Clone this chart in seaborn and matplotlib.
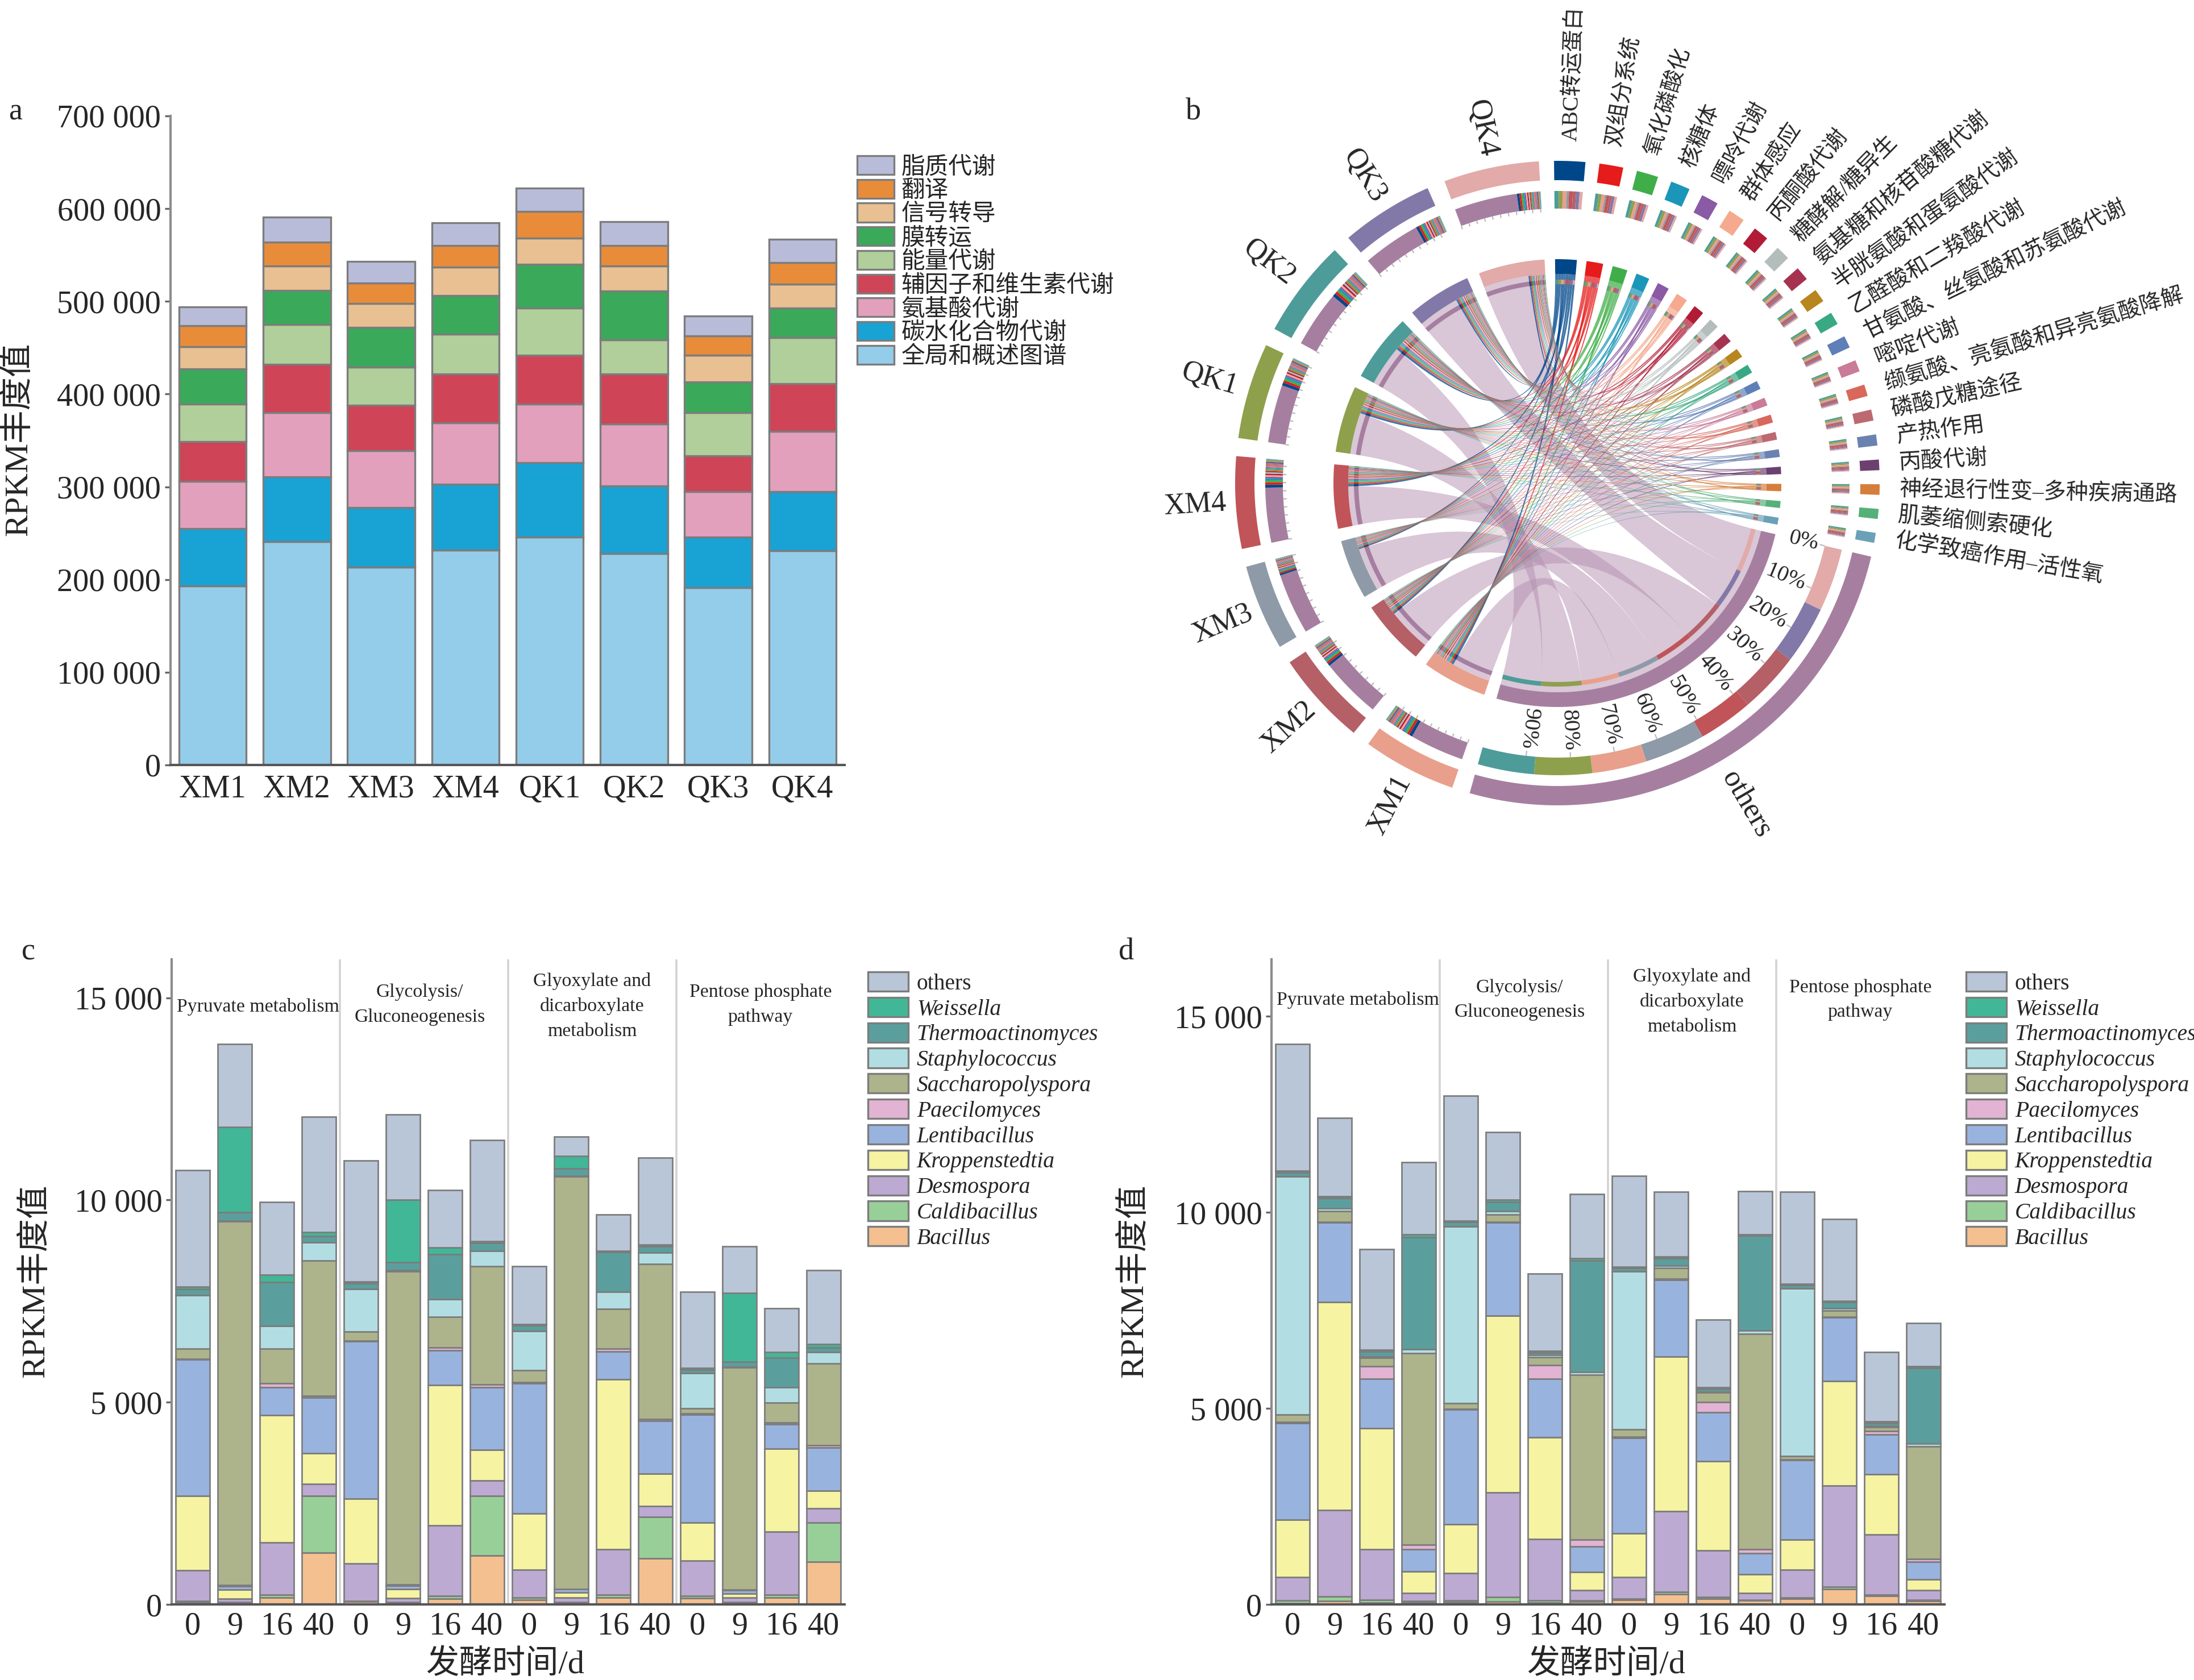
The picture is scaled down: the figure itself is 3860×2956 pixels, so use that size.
import numpy as np
import pandas as pd
import matplotlib
matplotlib.use("Agg")
import matplotlib.pyplot as plt
from matplotlib.patches import Patch, PathPatch, Polygon
from matplotlib.path import Path
from matplotlib.collections import LineCollection
import seaborn as sns

W, H = 3861, 2956
sns.set_style("ticks")
FONT = ["Liberation Serif", "Noto Sans CJK SC"]
plt.rcParams["font.family"] = FONT
plt.rcParams["axes.unicode_minus"] = False

# ---------- panel a ----------
a_samples = ["XM1", "XM2", "XM3", "XM4", "QK1", "QK2", "QK3", "QK4"]
a_series = ["脂质代谢", "翻译", "信号转导", "膜转运", "能量代谢", "辅因子和维生素代谢", "氨基酸代谢", "碳水化合物代谢", "全局和概述图谱"]
a_lipid = [20, 27, 23, 25, 25, 26, 21.5, 25]
a_transl = [23, 26, 22, 23, 29, 22, 21, 23.5]
a_signal = [24, 26, 26, 31, 28, 27, 29, 25.5]
a_memb = [37.5, 37, 43, 41.5, 47, 52.5, 33, 32]
a_energy = [40.5, 43, 41, 43, 51, 37, 46.5, 50]
a_cof = [43, 52, 49, 52.5, 53, 53.5, 38.5, 51]
a_amino = [51, 69, 61.5, 66.5, 63, 67, 49, 65]
a_carb = [62, 70, 64, 70.5, 80, 73, 55, 64]
a_global = [193, 241, 213.5, 232, 246, 228, 191, 231]
a_values = [a_lipid, a_transl, a_signal, a_memb, a_energy, a_cof, a_amino, a_carb, a_global]
a_colors = ["#b9bcd9", "#e98c3a", "#e8c092", "#3aa95a", "#b0cf9a", "#cf4456", "#e3a0bc", "#19a2d4", "#94cdea"]
a_ticks = [0, 100000, 200000, 300000, 400000, 500000, 600000, 700000]

# ---------- panels c, d ----------
genera = ["others", "Weissella", "Thermoactinomyces", "Staphylococcus", "Saccharopolyspora", "Paecilomyces",
          "Lentibacillus", "Kroppenstedtia", "Desmospora", "Caldibacillus", "Bacillus"]
genus_colors = ["#b9c6d8", "#41b797", "#5a9f9e", "#b2dee3", "#adb38b", "#e2b3d3", "#98b3de", "#f6f3a2", "#bcaad2", "#98cf98", "#f4c08f"]
days = ["0", "9", "16", "40"] * 4
groups = ["Pyruvate metabolism", "Glycolysis/\nGluconeogenesis", "Glyoxylate and\ndicarboxylate\nmetabolism", "Pentose phosphate\npathway"]

c_bac = [60, 25, 165, 1285, 70, 25, 140, 1215, 115, 35, 175, 1135, 150, 25, 165, 1050]
c_cal = [30, 30, 70, 1400, 10, 35, 70, 1470, 60, 25, 70, 1030, 60, 35, 70, 970]
c_des = [760, 80, 1295, 290, 935, 95, 1740, 385, 680, 105, 1120, 270, 875, 105, 1565, 360]
c_kro = [1835, 230, 3155, 760, 1600, 220, 3470, 750, 1400, 130, 4205, 795, 945, 105, 2055, 430]
c_len = [3365, 90, 690, 1380, 3890, 95, 865, 1555, 3210, 80, 680, 1310, 2665, 80, 595, 1075]
c_pae = [20, 20, 90, 45, 10, 25, 70, 70, 25, 10, 80, 45, 25, 10, 45, 45]
c_sac = [260, 8995, 865, 3340, 235, 7745, 750, 2920, 305, 10190, 980, 3830, 130, 5500, 500, 2035]
c_sta = [1320, 10, 560, 455, 1050, 25, 445, 375, 960, 25, 420, 290, 875, 10, 375, 270]
c_the = [150, 220, 1075, 150, 140, 200, 1100, 200, 140, 185, 980, 150, 80, 130, 725, 115]
c_wei = [50, 2100, 190, 105, 45, 1540, 175, 45, 35, 305, 25, 45, 45, 1705, 150, 80]
c_oth = [2885, 2055, 1800, 2850, 2990, 2115, 1415, 2500, 1425, 480, 910, 2150, 1880, 1145, 1075, 1835]
c_values = [c_oth, c_wei, c_the, c_sta, c_sac, c_pae, c_len, c_kro, c_des, c_cal, c_bac]

d_bac = [25, 85, 50, 60, 60, 70, 50, 70, 120, 265, 145, 95, 145, 385, 215, 85]
d_cal = [70, 120, 70, 25, 35, 120, 50, 25, 25, 50, 50, 25, 25, 70, 25, 25]
d_des = [600, 2205, 1290, 205, 700, 2665, 1565, 265, 555, 2060, 1180, 170, 710, 2580, 1540, 255]
d_kro = [1460, 5300, 3085, 555, 1255, 4505, 2600, 470, 1110, 3940, 2275, 480, 770, 2665, 1540, 275]
d_len = [2470, 2035, 1265, 555, 2915, 2375, 1495, 650, 2435, 1965, 1255, 530, 2025, 1615, 1010, 445]
d_pae = [25, 10, 315, 120, 25, 25, 335, 170, 25, 25, 255, 110, 25, 25, 85, 70]
d_sac = [190, 280, 215, 4890, 145, 180, 215, 4205, 190, 275, 240, 5495, 85, 155, 110, 2880]
d_sta = [6070, 70, 35, 95, 4505, 85, 50, 70, 4035, 60, 25, 85, 4275, 60, 25, 60]
d_the = [110, 255, 120, 2855, 110, 240, 60, 2845, 85, 180, 70, 2420, 85, 155, 70, 1930]
d_wei = [35, 50, 50, 70, 35, 50, 50, 60, 35, 50, 35, 25, 35, 35, 50, 50]
d_oth = [3240, 2000, 2565, 1845, 3180, 1735, 1965, 1640, 2315, 1650, 1725, 1095, 2340, 2085, 1760, 1095]
d_values = [d_oth, d_wei, d_the, d_sta, d_sac, d_pae, d_len, d_kro, d_des, d_cal, d_bac]
cd_ticks = [0, 5000, 10000, 15000]

# ---------- panel b ----------
pathways = ["ABC转运蛋白", "双组分系统", "氧化磷酸化", "核糖体", "嘌呤代谢", "群体感应", "丙酮酸代谢", "糖酵解/糖异生",
            "氨基糖和核苷酸糖代谢", "半胱氨酸和蛋氨酸代谢", "乙醛酸和二羧酸代谢", "甘氨酸、丝氨酸和苏氨酸代谢", "嘧啶代谢",
            "缬氨酸、亮氨酸和异亮氨酸降解", "磷酸戊糖途径", "产热作用", "丙酸代谢", "神经退行性变–多种疾病通路",
            "肌萎缩侧索硬化", "化学致癌作用–活性氧"]
pathway_size = [5.6, 4.3, 3.9, 3.5, 3.1, 3.0, 2.8, 2.6, 2.5, 2.4, 2.3, 2.2, 2.1, 2.1, 2.0, 2.0, 1.9, 1.9, 1.8, 1.8]
pathway_colors = ["#00478a", "#e61b1b", "#3fae48", "#1a96b8", "#8a5aa5", "#f5a98e", "#b11b35", "#b3bdbb", "#a53350", "#b7861e",
                  "#38a982", "#5f7fb8", "#c97b98", "#d8685c", "#bd6970", "#6a82b0", "#6b3f70", "#d57e3c", "#55b07a", "#6aa0b8"]
chord_samples = ["XM1", "XM2", "XM3", "XM4", "QK1", "QK2", "QK3", "QK4"]
sample_size = [16.9, 17.0, 15.5, 16.6, 17.3, 17.7, 16.7, 17.2]
sample_others = [10.8, 12.1, 12.1, 10.9, 11.5, 11.2, 11.5, 12.5]
sample_colors = ["#e8a08c", "#b46066", "#8f9aa8", "#c15458", "#8ea04c", "#4e9c99", "#8379a8", "#e2aaa8"]
others_color = "#a67fa0"
others_stack_order = ["QK4", "QK3", "XM2", "XM4", "XM3", "XM1", "QK1", "QK2"]
pathway_stack_order = ["QK2", "QK1", "XM1", "XM3", "XM4", "XM2", "QK3", "QK4"]
percent_labels = ["0%", "10%", "20%", "30%", "40%", "50%", "60%", "70%", "80%", "90%"]

fig = plt.figure(figsize=(W / 300, H / 300), dpi=300, facecolor="white")


def rect(x0, y0, x1, y1):
    return [x0 / W, 1 - y1 / H, (x1 - x0) / W, (y1 - y0) / H]


def stacked(ax, cats, names, values, colors, lw, pad):
    df = pd.DataFrame({"pos": np.tile(np.arange(len(cats)), len(names)),
                       "series": np.repeat(names, len(cats)),
                       "value": np.concatenate(values)})
    sns.histplot(data=df, x="pos", hue="series", weights="value", multiple="stack", discrete=True, shrink=0.8,
                 hue_order=names, palette=dict(zip(names, colors)), alpha=1, edgecolor="#7c7c7c", linewidth=lw,
                 legend=False, ax=ax)
    ax.set_xlim(-0.5, len(cats) - 0.5)
    ax.set_xticks(np.arange(len(cats)))
    ax.set_xticklabels(cats)
    ax.tick_params(axis="x", length=0, pad=pad, labelsize=13.5)
    ax.tick_params(axis="y", length=2.5, width=0.8, pad=1.5, labelsize=13.5, color="#666666")
    sns.despine(ax=ax)
    ax.spines["left"].set_color("#8c8c8c")
    ax.spines["left"].set_linewidth(1.0)
    ax.spines["bottom"].set_color("#555555")
    ax.spines["bottom"].set_linewidth(1.0)
    ax.set_facecolor("none")


def fmt(v):
    return f"{v:,}".replace(",", " ")


# panel a
axa = fig.add_axes(rect(300, 204, 1486, 1346))
stacked(axa, a_samples, a_series, [np.array(v) * 1000 for v in a_values], a_colors, 0.8, 4)
axa.set_ylim(0, 700000)
axa.set_yticks(a_ticks)
axa.set_yticklabels([fmt(v) for v in a_ticks])
axa.set_xlabel("")
axa.set_ylabel("")
fig.text(32 / W, 1 - 773 / H, "RPKM丰度值", rotation=90, ha="center", va="center", fontsize=14)
fig.legend(handles=[Patch(facecolor=c, edgecolor="#7c7c7c", linewidth=0.8, label=n) for n, c in zip(a_series, a_colors)],
           loc="upper left", bbox_to_anchor=(1508 / W, 1 - 274 / H), bbox_transform=fig.transFigure, frameon=False,
           fontsize=10, handlelength=1.56, handleheight=0.85, labelspacing=0.04, handletextpad=0.3, borderpad=0, borderaxespad=0)


def cd_panel(box, values, ymax, ytext, xlabel_x, ylabel_x, legend_x):
    ax = fig.add_axes(rect(*box))
    stacked(ax, days, genera, values, genus_colors, 0.65, 3)
    ax.set_ylim(0, ymax)
    ax.set_yticks(cd_ticks)
    ax.set_yticklabels([fmt(v) for v in cd_ticks])
    ax.set_xlabel("")
    ax.set_ylabel("")
    for x in (3.5, 7.5, 11.5):
        ax.axvline(x, color="#d4d4d4", lw=0.9, zorder=0)
    for xc, yc, g in zip((1.55, 5.4, 9.5, 13.5), ytext, groups):
        ax.text(xc, yc, g, ha="center", va="center", fontsize=8.1, linespacing=1.55)
    fig.text(xlabel_x / W, 1 - 2929 / H, "发酵时间/d", ha="center", va="center", fontsize=14)
    fig.text(ylabel_x / W, 1 - 2254 / H, "RPKM丰度值", rotation=90, ha="center", va="center", fontsize=14)
    leg = fig.legend(handles=[Patch(facecolor=c, edgecolor="#7c7c7c", linewidth=0.8, label=n) for n, c in zip(genera, genus_colors)],
                     loc="upper left", bbox_to_anchor=(legend_x / W, 1 - 1710 / H), bbox_transform=fig.transFigure,
                     frameon=False, fontsize=9.5, handlelength=1.79, handleheight=0.95, labelspacing=0.13,
                     handletextpad=0.38, borderpad=0, borderaxespad=0)
    for t in leg.get_texts():
        if t.get_text() != "others":
            t.set_fontstyle("italic")
    return ax


cd_panel((302, 1688, 1486, 2823), c_values, 15950, (14780, 14830, 14790, 14830), 889, 62, 1527)
cd_panel((2237, 1688, 3421, 2823), d_values, 16450, (15420, 15420, 15370, 15420), 2826, 1995, 3459)

for x, y, s in ((27, 197, "a"), (2100, 197, "b"), (50, 1675, "c"), (1982, 1675, "d")):
    fig.text(x / W, 1 - y / H, s, ha="center", va="center", fontsize=13)

# panel b: chord diagram laid out from the sizes above
CX, CY = 2740, 850
PATH_GAP, SAMPLE_GAP = 2.5, 3.25
axb = fig.add_axes(rect(2000, 0, 3861, 1560))
axb.set_xlim(-(CX - 2000), 3861 - CX)
axb.set_ylim(-(1560 - CY), CY)
axb.axis("off")
axb.patch.set_alpha(0)

R_A = (533, 567)
R_B = (483, 514)
R_C = (368, 394)
R_T = (350, 358)
path_sum = sum(pathway_size)
others_total = sum(sample_others)

theta = -0.6
path_span = []
for v in pathway_size:
    path_span.append((theta, theta + v))
    theta += v + PATH_GAP
others_span = (theta, theta + others_total)
theta += others_total + SAMPLE_GAP
sample_span = []
for v in sample_size:
    sample_span.append((theta, theta + v))
    theta += v + SAMPLE_GAP


def pt(r, a):
    t = np.deg2rad(a)
    return r * np.sin(t), r * np.cos(t)


def arc(r, a0, a1):
    n = max(3, int(abs(a1 - a0) * 2) + 2)
    t = np.deg2rad(np.linspace(a0, a1, n))
    return np.column_stack([r * np.sin(t), r * np.cos(t)])


def sector(r0, r1, a0, a1, color, z=3, **kw):
    xy = np.vstack([arc(r1, a0, a1), arc(r0, a1, a0)])
    axb.add_patch(Polygon(xy, closed=True, facecolor=color, edgecolor="none", zorder=z, **kw))


def ribbon(r, s0, s1, t0, t1, color, alpha, z):
    a = arc(r, s0, s1)
    b = arc(r, t0, t1)
    verts = [tuple(a[0])] + [tuple(p) for p in a[1:]] + [(0, 0), tuple(b[0])] + [tuple(p) for p in b[1:]] + [(0, 0), tuple(a[0])]
    codes = [Path.MOVETO] + [Path.LINETO] * (len(a) - 1) + [Path.CURVE3, Path.CURVE3] + [Path.LINETO] * (len(b) - 1) + [Path.CURVE3, Path.CURVE3]
    axb.add_patch(PathPatch(Path(verts, codes), facecolor=color, edgecolor="none", alpha=alpha, zorder=z))


idx = {n: i for i, n in enumerate(chord_samples)}

# others sector: rings and ribbons
sector(*R_A, *others_span, others_color)
sector(*R_C, *others_span, others_color)
pos = others_span[0]
others_pos = {}
for n in others_stack_order:
    v = sample_others[idx[n]]
    others_pos[n] = (pos, pos + v)
    sector(*R_B, pos, pos + v, sample_colors[idx[n]])
    sector(*R_T, pos, pos + v, sample_colors[idx[n]], z=4)
    pos += v

for i, n in enumerate(chord_samples):
    a0, a1 = sample_span[i]
    split = a0 + sample_others[i]
    sector(*R_A, a0, a1, sample_colors[i])
    sector(*R_C, a0, a1, sample_colors[i])
    sector(*R_B, a0, split, others_color)
    sector(*R_T, a0, split, others_color, z=4)
    o0, o1 = others_pos[n]
    ribbon(R_C[0], a0, split, o0, o1, "#b48fb0", 0.5, 1)

# pathway flows: each pathway is shared out by the size of each sample's pathway part
stripes = np.array(sample_size) - np.array(sample_others)
share = stripes / stripes.sum()
sample_scale = stripes.sum() / path_sum
sample_cursor = [a0 + o for (a0, _), o in zip(sample_span, sample_others)]
for j, (name, size) in enumerate(zip(pathways, pathway_size)):
    b0, b1 = path_span[j]
    sector(*R_A, b0, b1, pathway_colors[j])
    sector(*R_C, b0, b1, pathway_colors[j])
    pos = b0
    for n in pathway_stack_order:
        i = idx[n]
        w = size * share[i]
        ws = w * sample_scale
        sector(*R_B, pos, pos + w, sample_colors[i])
        sector(*R_T, pos, pos + w, sample_colors[i], z=4)
        s0 = sample_cursor[i]
        sector(*R_B, s0, s0 + ws, pathway_colors[j])
        sector(*R_T, s0, s0 + ws, pathway_colors[j], z=4)
        ribbon(R_C[0], s0, s0 + ws, pos, pos + w, pathway_colors[j], 0.75, 2)
        sample_cursor[i] += ws
        pos += w

# axis ticks on the sample and others tracks
segs = []
for a0, a1 in sample_span:
    for a in np.arange(a0, a1, 1.7):
        segs.append([pt(R_B[0] - 6, a), pt(R_B[0], a)])
pct = [others_span[0] + others_total * k / 10 for k in range(10)]
for a in pct:
    segs.append([pt(R_B[0] - 9, a), pt(R_B[0], a)])
axb.add_collection(LineCollection(segs, colors="#b8b8b8", linewidths=0.5, zorder=3))

for lab, a in zip(percent_labels, pct):
    x, y = pt(R_B[0] - 12, a)
    axb.text(x, y, lab, rotation=90 - a, rotation_mode="anchor", ha="right", va="center", fontsize=9.5)

for j, name in enumerate(pathways):
    a = sum(path_span[j]) / 2
    x, y = pt(602, a)
    axb.text(x, y, name, rotation=90 - a, rotation_mode="anchor", ha="left", va="center", fontsize=9.4, clip_on=False)

for i, n in enumerate(chord_samples):
    a = sum(sample_span[i]) / 2
    x, y = pt(638, a)
    axb.text(x, y, n, rotation=270 - a, rotation_mode="anchor", ha="center", va="center", fontsize=12.5)
a = sum(others_span) / 2
x, y = pt(656, a)
axb.text(x, y, "others", rotation=90 - a, rotation_mode="anchor", ha="center", va="center", fontsize=12.5)

fig.savefig("out.png", dpi=300)
